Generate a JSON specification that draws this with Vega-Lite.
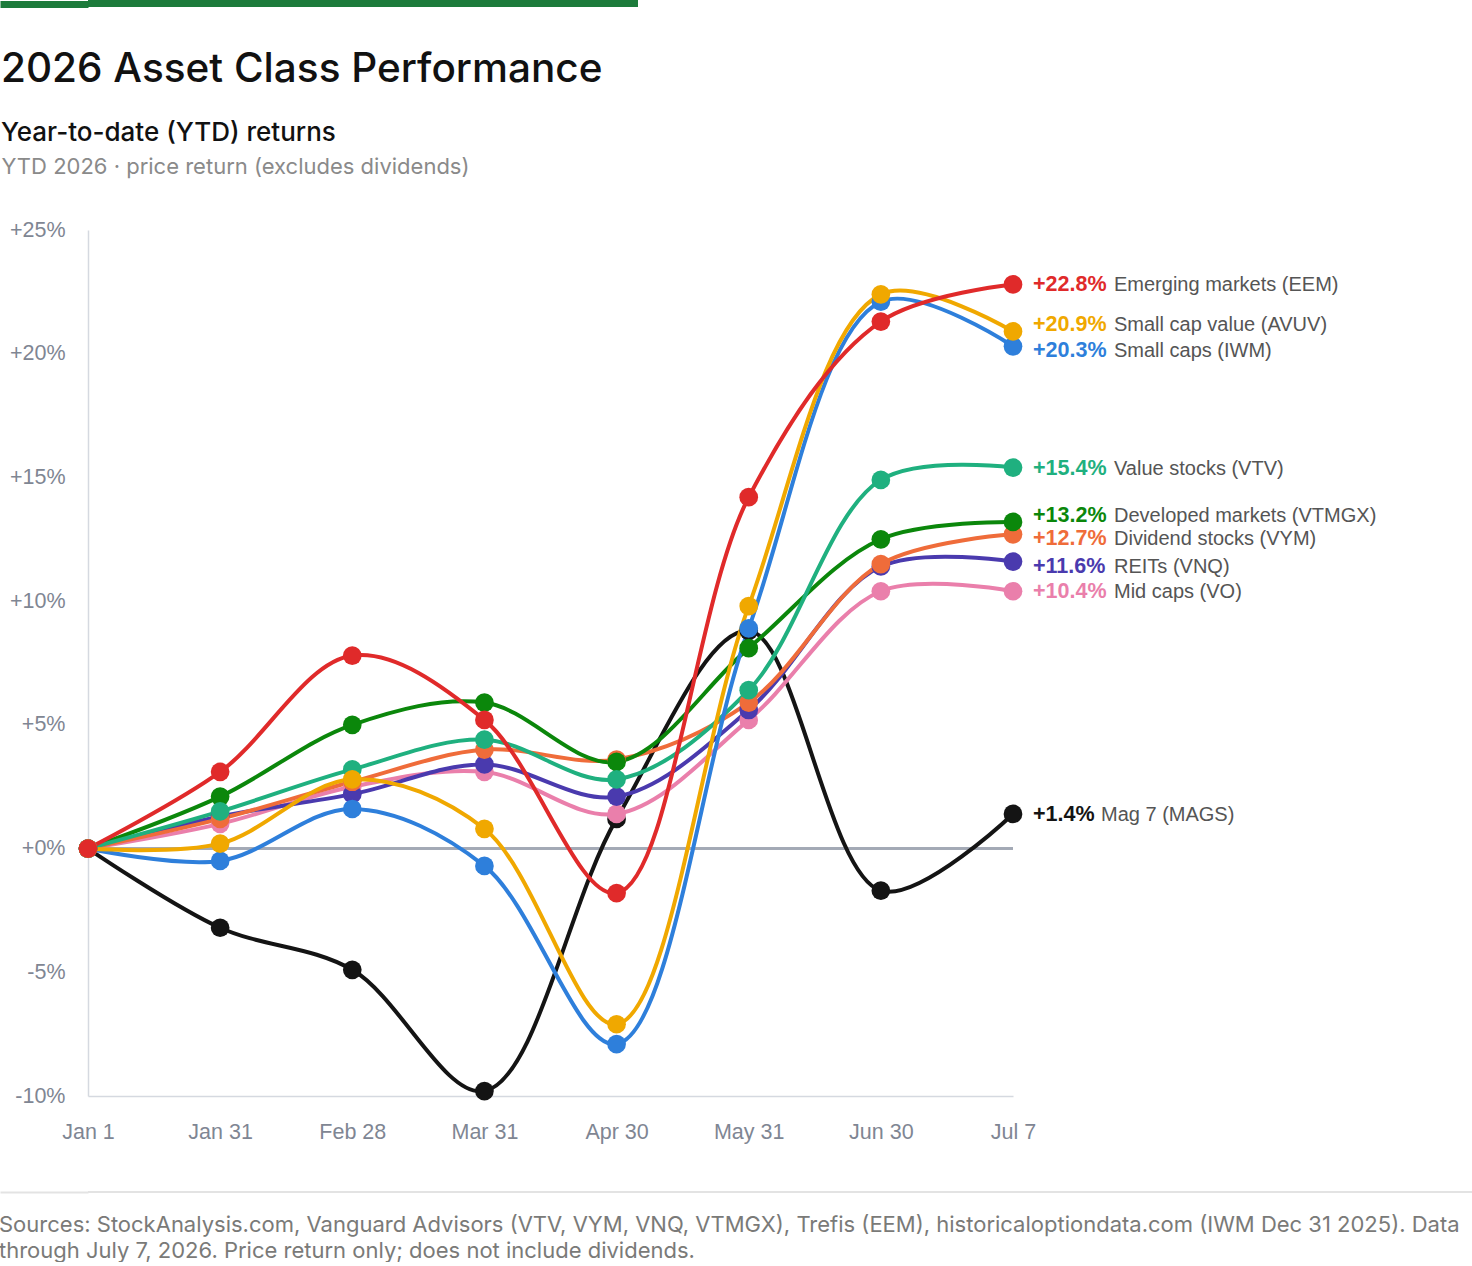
{
  "$schema": "https://vega.github.io/schema/vega-lite/v6.json",
  "padding": {"left": -4, "top": 0, "right": 0, "bottom": 0},
  "background": "white",
  "columns": 1,
  "spacing": 41,
  "config": {"view": {"stroke": null}, "font": "Liberation Sans"},
  "concat": [
    {
      "width": 550,
      "height": 7,
      "view": {"fill": "#1c7b3b", "stroke": null},
      "data": {"values": [{}]},
      "mark": {"type": "point", "opacity": 0},
      "encoding": {
        "y": {"datum": 0.5, "type": "quantitative", "scale": {"domain": [0, 1]},
          "axis": {"values": [0.5], "labels": false, "domain": false, "grid": false, "ticks": true, "tickSize": 88, "tickWidth": 7, "tickColor": "#1c7b3b", "title": null}}
      }
    },
    {
      "width": 925,
      "height": 866,
      "title": {
        "text": "2026 Asset Class Performance",
        "subtitle": "Year-to-date (YTD) returns",
        "anchor": "start",
        "frame": "bounds",
        "font": "Inter",
        "fontSize": 40.5,
        "fontWeight": 500,
        "color": "#111111",
        "subtitleFont": "Inter",
        "subtitleFontSize": 26,
        "subtitleFontWeight": 500,
        "subtitleColor": "#111111",
        "subtitlePadding": 30,
        "offset": 9
      },
      "data": {
        "values": [
          {"date": "Jan 1", "ticker": "MAGS", "series": "Mag 7 (MAGS)", "v": 0},
          {"date": "Jan 31", "ticker": "MAGS", "series": "Mag 7 (MAGS)", "v": -3.2},
          {"date": "Feb 28", "ticker": "MAGS", "series": "Mag 7 (MAGS)", "v": -4.9},
          {"date": "Mar 31", "ticker": "MAGS", "series": "Mag 7 (MAGS)", "v": -9.8},
          {"date": "Apr 30", "ticker": "MAGS", "series": "Mag 7 (MAGS)", "v": 1.2},
          {"date": "May 31", "ticker": "MAGS", "series": "Mag 7 (MAGS)", "v": 8.8},
          {"date": "Jun 30", "ticker": "MAGS", "series": "Mag 7 (MAGS)", "v": -1.7},
          {"date": "Jul 7", "ticker": "MAGS", "series": "Mag 7 (MAGS)", "v": 1.4},
          {"date": "Jan 1", "ticker": "VO", "series": "Mid caps (VO)", "v": 0},
          {"date": "Jan 31", "ticker": "VO", "series": "Mid caps (VO)", "v": 1.0},
          {"date": "Feb 28", "ticker": "VO", "series": "Mid caps (VO)", "v": 2.5},
          {"date": "Mar 31", "ticker": "VO", "series": "Mid caps (VO)", "v": 3.1},
          {"date": "Apr 30", "ticker": "VO", "series": "Mid caps (VO)", "v": 1.4},
          {"date": "May 31", "ticker": "VO", "series": "Mid caps (VO)", "v": 5.2},
          {"date": "Jun 30", "ticker": "VO", "series": "Mid caps (VO)", "v": 10.4},
          {"date": "Jul 7", "ticker": "VO", "series": "Mid caps (VO)", "v": 10.4},
          {"date": "Jan 1", "ticker": "VNQ", "series": "REITs (VNQ)", "v": 0},
          {"date": "Jan 31", "ticker": "VNQ", "series": "REITs (VNQ)", "v": 1.3},
          {"date": "Feb 28", "ticker": "VNQ", "series": "REITs (VNQ)", "v": 2.2},
          {"date": "Mar 31", "ticker": "VNQ", "series": "REITs (VNQ)", "v": 3.4},
          {"date": "Apr 30", "ticker": "VNQ", "series": "REITs (VNQ)", "v": 2.1},
          {"date": "May 31", "ticker": "VNQ", "series": "REITs (VNQ)", "v": 5.6},
          {"date": "Jun 30", "ticker": "VNQ", "series": "REITs (VNQ)", "v": 11.4},
          {"date": "Jul 7", "ticker": "VNQ", "series": "REITs (VNQ)", "v": 11.6},
          {"date": "Jan 1", "ticker": "VYM", "series": "Dividend stocks (VYM)", "v": 0},
          {"date": "Jan 31", "ticker": "VYM", "series": "Dividend stocks (VYM)", "v": 1.2},
          {"date": "Feb 28", "ticker": "VYM", "series": "Dividend stocks (VYM)", "v": 2.7},
          {"date": "Mar 31", "ticker": "VYM", "series": "Dividend stocks (VYM)", "v": 4.0},
          {"date": "Apr 30", "ticker": "VYM", "series": "Dividend stocks (VYM)", "v": 3.6},
          {"date": "May 31", "ticker": "VYM", "series": "Dividend stocks (VYM)", "v": 5.9},
          {"date": "Jun 30", "ticker": "VYM", "series": "Dividend stocks (VYM)", "v": 11.5},
          {"date": "Jul 7", "ticker": "VYM", "series": "Dividend stocks (VYM)", "v": 12.7},
          {"date": "Jan 1", "ticker": "VTMGX", "series": "Developed markets (VTMGX)", "v": 0},
          {"date": "Jan 31", "ticker": "VTMGX", "series": "Developed markets (VTMGX)", "v": 2.1},
          {"date": "Feb 28", "ticker": "VTMGX", "series": "Developed markets (VTMGX)", "v": 5.0},
          {"date": "Mar 31", "ticker": "VTMGX", "series": "Developed markets (VTMGX)", "v": 5.9},
          {"date": "Apr 30", "ticker": "VTMGX", "series": "Developed markets (VTMGX)", "v": 3.5},
          {"date": "May 31", "ticker": "VTMGX", "series": "Developed markets (VTMGX)", "v": 8.1},
          {"date": "Jun 30", "ticker": "VTMGX", "series": "Developed markets (VTMGX)", "v": 12.5},
          {"date": "Jul 7", "ticker": "VTMGX", "series": "Developed markets (VTMGX)", "v": 13.2},
          {"date": "Jan 1", "ticker": "VTV", "series": "Value stocks (VTV)", "v": 0},
          {"date": "Jan 31", "ticker": "VTV", "series": "Value stocks (VTV)", "v": 1.5},
          {"date": "Feb 28", "ticker": "VTV", "series": "Value stocks (VTV)", "v": 3.2},
          {"date": "Mar 31", "ticker": "VTV", "series": "Value stocks (VTV)", "v": 4.4},
          {"date": "Apr 30", "ticker": "VTV", "series": "Value stocks (VTV)", "v": 2.8},
          {"date": "May 31", "ticker": "VTV", "series": "Value stocks (VTV)", "v": 6.4},
          {"date": "Jun 30", "ticker": "VTV", "series": "Value stocks (VTV)", "v": 14.9},
          {"date": "Jul 7", "ticker": "VTV", "series": "Value stocks (VTV)", "v": 15.4},
          {"date": "Jan 1", "ticker": "IWM", "series": "Small caps (IWM)", "v": 0},
          {"date": "Jan 31", "ticker": "IWM", "series": "Small caps (IWM)", "v": -0.5},
          {"date": "Feb 28", "ticker": "IWM", "series": "Small caps (IWM)", "v": 1.6},
          {"date": "Mar 31", "ticker": "IWM", "series": "Small caps (IWM)", "v": -0.7},
          {"date": "Apr 30", "ticker": "IWM", "series": "Small caps (IWM)", "v": -7.9},
          {"date": "May 31", "ticker": "IWM", "series": "Small caps (IWM)", "v": 8.9},
          {"date": "Jun 30", "ticker": "IWM", "series": "Small caps (IWM)", "v": 22.1},
          {"date": "Jul 7", "ticker": "IWM", "series": "Small caps (IWM)", "v": 20.3},
          {"date": "Jan 1", "ticker": "AVUV", "series": "Small cap value (AVUV)", "v": 0},
          {"date": "Jan 31", "ticker": "AVUV", "series": "Small cap value (AVUV)", "v": 0.2},
          {"date": "Feb 28", "ticker": "AVUV", "series": "Small cap value (AVUV)", "v": 2.8},
          {"date": "Mar 31", "ticker": "AVUV", "series": "Small cap value (AVUV)", "v": 0.8},
          {"date": "Apr 30", "ticker": "AVUV", "series": "Small cap value (AVUV)", "v": -7.1},
          {"date": "May 31", "ticker": "AVUV", "series": "Small cap value (AVUV)", "v": 9.8},
          {"date": "Jun 30", "ticker": "AVUV", "series": "Small cap value (AVUV)", "v": 22.4},
          {"date": "Jul 7", "ticker": "AVUV", "series": "Small cap value (AVUV)", "v": 20.9},
          {"date": "Jan 1", "ticker": "EEM", "series": "Emerging markets (EEM)", "v": 0},
          {"date": "Jan 31", "ticker": "EEM", "series": "Emerging markets (EEM)", "v": 3.1},
          {"date": "Feb 28", "ticker": "EEM", "series": "Emerging markets (EEM)", "v": 7.8},
          {"date": "Mar 31", "ticker": "EEM", "series": "Emerging markets (EEM)", "v": 5.2},
          {"date": "Apr 30", "ticker": "EEM", "series": "Emerging markets (EEM)", "v": -1.8},
          {"date": "May 31", "ticker": "EEM", "series": "Emerging markets (EEM)", "v": 14.2},
          {"date": "Jun 30", "ticker": "EEM", "series": "Emerging markets (EEM)", "v": 21.3},
          {"date": "Jul 7", "ticker": "EEM", "series": "Emerging markets (EEM)", "v": 22.8}
        ]
      },
      "layer": [
        {
          "mark": {"type": "rule", "color": "#a3a9b5", "strokeWidth": 2},
          "encoding": {"y": {"datum": 0, "type": "quantitative"}}
        },
        {
          "mark": {"type": "line", "interpolate": "catmull-rom", "strokeWidth": 4},
          "encoding": {
            "x": {
              "field": "date", "type": "ordinal",
              "sort": ["Jan 1", "Jan 31", "Feb 28", "Mar 31", "Apr 30", "May 31", "Jun 30", "Jul 7"],
              "scale": {"type": "point", "padding": 0},
              "axis": {"title": null, "labelAngle": 0, "ticks": false, "tickSize": 0, "labelPadding": 25, "labelFont": "Liberation Sans", "labelFontSize": 21.5, "labelColor": "#7f8693", "domainColor": "#d5d9e0", "domainWidth": 1.5, "grid": false}
            },
            "y": {
              "field": "v", "type": "quantitative",
              "scale": {"domain": [-10, 25], "nice": false, "zero": false},
              "axis": {
                "values": [-10, -5, 0, 5, 10, 15, 20, 25],
                "labelExpr": "(datum.value >= 0 ? '+' : '') + datum.value + '%'",
                "grid": false, "ticks": false, "tickSize": 0, "labelPadding": 23,
                "labelFont": "Liberation Sans", "labelFontSize": 21.5, "labelColor": "#7f8693",
                "domainColor": "#d5d9e0", "domainWidth": 1.5,
                "title": "YTD 2026 · price return (excludes dividends)",
                "titleAngle": 0, "titleAlign": "left", "titleBaseline": "middle",
                "titleX": -87, "titleY": -64,
                "titleFont": "Inter", "titleFontSize": 22, "titleFontWeight": "normal", "titleColor": "#8a8a8a"
              }
            },
            "color": {
              "field": "ticker", "type": "nominal", "legend": null,
              "scale": {
                "domain": ["EEM", "AVUV", "IWM", "VTV", "VTMGX", "VYM", "VNQ", "VO", "MAGS"],
                "range": ["#e02a2a", "#f0a800", "#2e7fdb", "#1fb07f", "#0b870b", "#ef6c3a", "#4a3aae", "#ea7fab", "#141414"]
              }
            }
          }
        },
        {
          "mark": {"type": "point", "filled": true, "size": 350, "opacity": 1},
          "encoding": {
            "x": {"field": "date", "type": "ordinal", "sort": ["Jan 1", "Jan 31", "Feb 28", "Mar 31", "Apr 30", "May 31", "Jun 30", "Jul 7"]},
            "y": {"field": "v", "type": "quantitative"},
            "color": {"field": "ticker", "type": "nominal", "legend": null}
          }
        },
        {
          "transform": [{"filter": "datum.date == 'Jul 7'"}, {"filter": {"field": "ticker", "oneOf": ["AVUV", "VTMGX"]}}, {"calculate": "format(datum.v, '+.1f') + '%'", "as": "pct"}],
          "mark": {"type": "text", "align": "left", "baseline": "middle", "dx": 20, "dy": -6, "fontSize": 21.5, "fontWeight": "bold", "font": "Liberation Sans"},
          "encoding": {
            "x": {"field": "date", "type": "ordinal", "sort": ["Jan 1", "Jan 31", "Feb 28", "Mar 31", "Apr 30", "May 31", "Jun 30", "Jul 7"]},
            "y": {"field": "v", "type": "quantitative"},
            "text": {"field": "pct"},
            "color": {"field": "ticker", "type": "nominal", "legend": null}
          }
        },
        {
          "transform": [{"filter": "datum.date == 'Jul 7'"}, {"filter": {"field": "ticker", "oneOf": ["IWM", "VYM", "VNQ"]}}, {"calculate": "format(datum.v, '+.1f') + '%'", "as": "pct"}],
          "mark": {"type": "text", "align": "left", "baseline": "middle", "dx": 20, "dy": 5, "fontSize": 21.5, "fontWeight": "bold", "font": "Liberation Sans"},
          "encoding": {
            "x": {"field": "date", "type": "ordinal", "sort": ["Jan 1", "Jan 31", "Feb 28", "Mar 31", "Apr 30", "May 31", "Jun 30", "Jul 7"]},
            "y": {"field": "v", "type": "quantitative"},
            "text": {"field": "pct"},
            "color": {"field": "ticker", "type": "nominal", "legend": null}
          }
        },
        {
          "transform": [{"filter": "datum.date == 'Jul 7'"}, {"filter": {"field": "ticker", "oneOf": ["EEM", "VTV", "VO", "MAGS"]}}, {"calculate": "format(datum.v, '+.1f') + '%'", "as": "pct"}],
          "mark": {"type": "text", "align": "left", "baseline": "middle", "dx": 20, "dy": 1, "fontSize": 21.5, "fontWeight": "bold", "font": "Liberation Sans"},
          "encoding": {
            "x": {"field": "date", "type": "ordinal", "sort": ["Jan 1", "Jan 31", "Feb 28", "Mar 31", "Apr 30", "May 31", "Jun 30", "Jul 7"]},
            "y": {"field": "v", "type": "quantitative"},
            "text": {"field": "pct"},
            "color": {"field": "ticker", "type": "nominal", "legend": null}
          }
        },
        {
          "transform": [{"filter": "datum.date == 'Jul 7'"}, {"filter": {"field": "ticker", "oneOf": ["AVUV", "VTMGX"]}}],
          "mark": {"type": "text", "align": "left", "baseline": "middle", "dx": 101, "dy": -6, "fontSize": 20, "font": "Liberation Sans", "color": "#555555"},
          "encoding": {
            "x": {"field": "date", "type": "ordinal", "sort": ["Jan 1", "Jan 31", "Feb 28", "Mar 31", "Apr 30", "May 31", "Jun 30", "Jul 7"]},
            "y": {"field": "v", "type": "quantitative"},
            "text": {"field": "series"}
          }
        },
        {
          "transform": [{"filter": "datum.date == 'Jul 7'"}, {"filter": {"field": "ticker", "oneOf": ["IWM", "VYM", "VNQ"]}}],
          "mark": {"type": "text", "align": "left", "baseline": "middle", "dx": 101, "dy": 5, "fontSize": 20, "font": "Liberation Sans", "color": "#555555"},
          "encoding": {
            "x": {"field": "date", "type": "ordinal", "sort": ["Jan 1", "Jan 31", "Feb 28", "Mar 31", "Apr 30", "May 31", "Jun 30", "Jul 7"]},
            "y": {"field": "v", "type": "quantitative"},
            "text": {"field": "series"}
          }
        },
        {
          "transform": [{"filter": "datum.date == 'Jul 7'"}, {"filter": {"field": "ticker", "oneOf": ["EEM", "VTV", "VO"]}}],
          "mark": {"type": "text", "align": "left", "baseline": "middle", "dx": 101, "dy": 1, "fontSize": 20, "font": "Liberation Sans", "color": "#555555"},
          "encoding": {
            "x": {"field": "date", "type": "ordinal", "sort": ["Jan 1", "Jan 31", "Feb 28", "Mar 31", "Apr 30", "May 31", "Jun 30", "Jul 7"]},
            "y": {"field": "v", "type": "quantitative"},
            "text": {"field": "series"}
          }
        },
        {
          "transform": [{"filter": "datum.date == 'Jul 7'"}, {"filter": {"field": "ticker", "oneOf": ["MAGS"]}}],
          "mark": {"type": "text", "align": "left", "baseline": "middle", "dx": 88, "dy": 1, "fontSize": 20, "font": "Liberation Sans", "color": "#555555"},
          "encoding": {
            "x": {"field": "date", "type": "ordinal", "sort": ["Jan 1", "Jan 31", "Feb 28", "Mar 31", "Apr 30", "May 31", "Jun 30", "Jul 7"]},
            "y": {"field": "v", "type": "quantitative"},
            "text": {"field": "series"}
          }
        }
      ]
    },
    {
      "width": 1390,
      "height": 8,
      "data": {"values": [{}]},
      "title": {
        "text": ["Sources: StockAnalysis.com, Vanguard Advisors (VTV, VYM, VNQ, VTMGX), Trefis (EEM), historicaloptiondata.com (IWM Dec 31 2025). Data", "through July 7, 2026. Price return only; does not include dividends."],
        "orient": "bottom", "anchor": "start", "frame": "bounds",
        "font": "Inter", "fontSize": 22, "fontWeight": "normal", "color": "#7a7a78", "lineHeight": 26, "offset": 22
      },
      "mark": {"type": "rule", "color": "#e3e3e3", "strokeWidth": 2},
      "encoding": {
        "y": {"datum": 0, "type": "quantitative", "scale": {"domain": [0, 1]},
          "axis": {"values": [0], "labels": false, "domain": false, "grid": false, "ticks": true, "tickSize": 88, "tickWidth": 2, "tickColor": "#e3e3e3", "title": null}}
      }
    }
  ]
}
